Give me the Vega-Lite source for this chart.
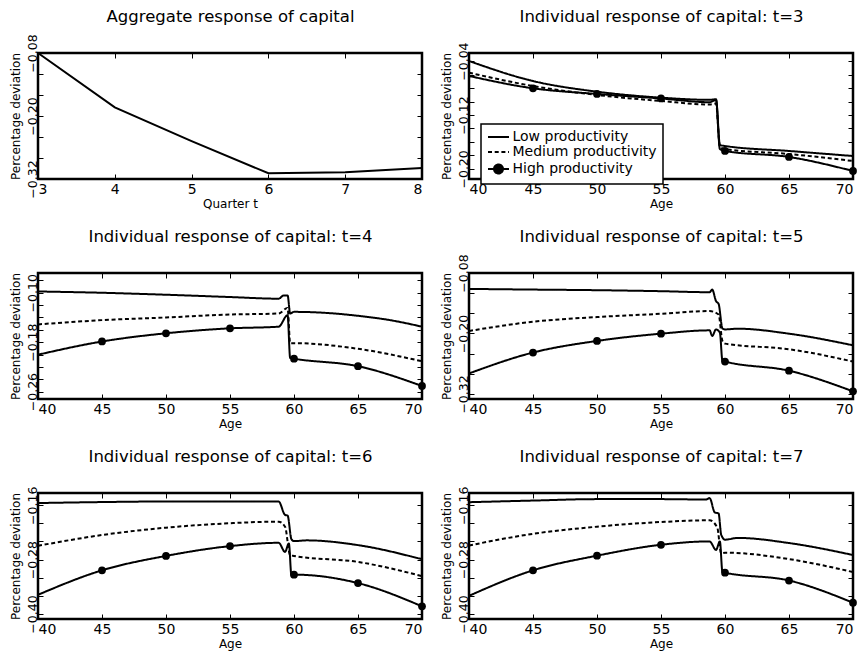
{
"$schema": "https://vega.github.io/schema/vega-lite/v6.json",
"background": "white",
"padding": {"left": 7, "top": 7, "right": 2, "bottom": 0},
"config": {
  "view": {"stroke": "black", "strokeWidth": 2.5},
  "font": "DejaVu Sans",
  "axis": {"domain": false, "grid": false, "tickColor": "black", "tickWidth": 1, "tickSize": -5, "labelColor": "black", "labelFont": "DejaVu Sans", "titleFont": "DejaVu Sans", "titleFontWeight": "normal", "titleColor": "black", "labelOverlap": false, "labelBound": false},
  "axisX": {"labelFontSize": 14, "labelPadding": 8, "titleFontSize": 12, "titlePadding": 2},
  "axisTop": {"titleFontSize": 16.5, "titlePadding": 28},
  "axisY": {"labelFontSize": 12.5, "labelAngle": -90, "labelPadding": 4, "titleFontSize": 12, "titlePadding": 4}
},
"datasets": {
  "agg": [
    {"t": 3, "value": -0.08}, {"t": 4, "value": -0.1835}, {"t": 5, "value": -0.248},
    {"t": 6, "value": -0.309}, {"t": 7, "value": -0.307}, {"t": 8, "value": -0.299}
  ],
  "ind": [
    {"t":3,"series":"Low productivity","age":40,"value":-0.0399},{"t":3,"series":"Low productivity","age":45,"value":-0.0696},{"t":3,"series":"Low productivity","age":50,"value":-0.0854},{"t":3,"series":"Low productivity","age":55,"value":-0.0943},{"t":3,"series":"Low productivity","age":58.8,"value":-0.0975},{"t":3,"series":"Low productivity","age":59.3,"value":-0.0965},{"t":3,"series":"Low productivity","age":59.6,"value":-0.1645},{"t":3,"series":"Low productivity","age":60,"value":-0.166},{"t":3,"series":"Low productivity","age":65,"value":-0.1734},{"t":3,"series":"Low productivity","age":70,"value":-0.1809},
    {"t":3,"series":"Medium productivity","age":40,"value":-0.0572},{"t":3,"series":"Medium productivity","age":45,"value":-0.077},{"t":3,"series":"Medium productivity","age":50,"value":-0.0903},{"t":3,"series":"Medium productivity","age":55,"value":-0.0992},{"t":3,"series":"Medium productivity","age":58.8,"value":-0.1045},{"t":3,"series":"Medium productivity","age":59.3,"value":-0.103},{"t":3,"series":"Medium productivity","age":59.6,"value":-0.1675},{"t":3,"series":"Medium productivity","age":60,"value":-0.1705},{"t":3,"series":"Medium productivity","age":65,"value":-0.1779},{"t":3,"series":"Medium productivity","age":70,"value":-0.1883},
    {"t":3,"series":"High productivity","age":40,"value":-0.0621},{"t":3,"series":"High productivity","age":45,"value":-0.0804},{"t":3,"series":"High productivity","age":50,"value":-0.0888},{"t":3,"series":"High productivity","age":55,"value":-0.0955},{"t":3,"series":"High productivity","age":58.8,"value":-0.101},{"t":3,"series":"High productivity","age":59.3,"value":-0.0977},{"t":3,"series":"High productivity","age":59.6,"value":-0.1705},{"t":3,"series":"High productivity","age":60,"value":-0.1734},{"t":3,"series":"High productivity","age":65,"value":-0.1823},{"t":3,"series":"High productivity","age":70,"value":-0.2031},

    {"t":4,"series":"Low productivity","age":40,"value":-0.0979},{"t":4,"series":"Low productivity","age":45,"value":-0.1},{"t":4,"series":"Low productivity","age":50,"value":-0.1032},{"t":4,"series":"Low productivity","age":55,"value":-0.1069},{"t":4,"series":"Low productivity","age":58.8,"value":-0.1096},{"t":4,"series":"Low productivity","age":59.2,"value":-0.1043},{"t":4,"series":"Low productivity","age":59.5,"value":-0.1043},{"t":4,"series":"Low productivity","age":59.7,"value":-0.1336},{"t":4,"series":"Low productivity","age":60,"value":-0.1309},{"t":4,"series":"Low productivity","age":62,"value":-0.132},{"t":4,"series":"Low productivity","age":65,"value":-0.1373},{"t":4,"series":"Low productivity","age":67.5,"value":-0.1443},{"t":4,"series":"Low productivity","age":70,"value":-0.1549},
    {"t":4,"series":"Medium productivity","age":40,"value":-0.1512},{"t":4,"series":"Medium productivity","age":45,"value":-0.1443},{"t":4,"series":"Medium productivity","age":50,"value":-0.14},{"t":4,"series":"Medium productivity","age":55,"value":-0.1352},{"t":4,"series":"Medium productivity","age":58.8,"value":-0.1336},{"t":4,"series":"Medium productivity","age":59.5,"value":-0.1245},{"t":4,"series":"Medium productivity","age":59.7,"value":-0.1816},{"t":4,"series":"Medium productivity","age":60,"value":-0.1816},{"t":4,"series":"Medium productivity","age":65,"value":-0.1907},{"t":4,"series":"Medium productivity","age":70,"value":-0.2109},
    {"t":4,"series":"High productivity","age":40,"value":-0.2003},{"t":4,"series":"High productivity","age":45,"value":-0.1789},{"t":4,"series":"High productivity","age":50,"value":-0.1656},{"t":4,"series":"High productivity","age":55,"value":-0.1576},{"t":4,"series":"High productivity","age":58.8,"value":-0.1549},{"t":4,"series":"High productivity","age":59.5,"value":-0.1363},{"t":4,"series":"High productivity","age":59.7,"value":-0.2056},{"t":4,"series":"High productivity","age":60,"value":-0.2067},{"t":4,"series":"High productivity","age":65,"value":-0.2189},{"t":4,"series":"High productivity","age":70,"value":-0.2509},

    {"t":5,"series":"Low productivity","age":40,"value":-0.1116},{"t":5,"series":"Low productivity","age":45,"value":-0.1129},{"t":5,"series":"Low productivity","age":50,"value":-0.1141},{"t":5,"series":"Low productivity","age":55,"value":-0.1161},{"t":5,"series":"Low productivity","age":58.8,"value":-0.1181},{"t":5,"series":"Low productivity","age":59,"value":-0.1129},{"t":5,"series":"Low productivity","age":59.3,"value":-0.1358},{"t":5,"series":"Low productivity","age":59.5,"value":-0.1412},{"t":5,"series":"Low productivity","age":59.8,"value":-0.19},{"t":5,"series":"Low productivity","age":60,"value":-0.1919},{"t":5,"series":"Low productivity","age":61,"value":-0.1905},{"t":5,"series":"Low productivity","age":65,"value":-0.2004},{"t":5,"series":"Low productivity","age":70,"value":-0.2234},
    {"t":5,"series":"Medium productivity","age":40,"value":-0.195},{"t":5,"series":"Medium productivity","age":45,"value":-0.1767},{"t":5,"series":"Medium productivity","age":50,"value":-0.1674},{"t":5,"series":"Medium productivity","age":55,"value":-0.1609},{"t":5,"series":"Medium productivity","age":58.8,"value":-0.1556},{"t":5,"series":"Medium productivity","age":59.5,"value":-0.1623},{"t":5,"series":"Medium productivity","age":59.8,"value":-0.215},{"t":5,"series":"Medium productivity","age":60,"value":-0.2201},{"t":5,"series":"Medium productivity","age":65,"value":-0.2313},{"t":5,"series":"Medium productivity","age":70,"value":-0.2556},
    {"t":5,"series":"High productivity","age":40,"value":-0.2793},{"t":5,"series":"High productivity","age":45,"value":-0.2378},{"t":5,"series":"High productivity","age":50,"value":-0.2148},{"t":5,"series":"High productivity","age":55,"value":-0.2004},{"t":5,"series":"High productivity","age":58.8,"value":-0.1938},{"t":5,"series":"High productivity","age":59,"value":-0.2049},{"t":5,"series":"High productivity","age":59.3,"value":-0.1919},{"t":5,"series":"High productivity","age":59.6,"value":-0.1984},{"t":5,"series":"High productivity","age":59.8,"value":-0.2542},{"t":5,"series":"High productivity","age":60,"value":-0.2556},{"t":5,"series":"High productivity","age":65,"value":-0.2739},{"t":5,"series":"High productivity","age":70,"value":-0.3148},

    {"t":6,"series":"Low productivity","age":40,"value":-0.1552},{"t":6,"series":"Low productivity","age":45,"value":-0.153},{"t":6,"series":"Low productivity","age":50,"value":-0.1517},{"t":6,"series":"Low productivity","age":55,"value":-0.1517},{"t":6,"series":"Low productivity","age":58.8,"value":-0.1517},{"t":6,"series":"Low productivity","age":59.3,"value":-0.1813},{"t":6,"series":"Low productivity","age":59.5,"value":-0.1828},{"t":6,"series":"Low productivity","age":59.8,"value":-0.235},{"t":6,"series":"Low productivity","age":60,"value":-0.2391},{"t":6,"series":"Low productivity","age":61,"value":-0.2375},{"t":6,"series":"Low productivity","age":65,"value":-0.248},{"t":6,"series":"Low productivity","age":70,"value":-0.2791},
    {"t":6,"series":"Medium productivity","age":40,"value":-0.2495},{"t":6,"series":"Medium productivity","age":45,"value":-0.2257},{"t":6,"series":"Medium productivity","age":50,"value":-0.2095},{"t":6,"series":"Medium productivity","age":55,"value":-0.1997},{"t":6,"series":"Medium productivity","age":58.8,"value":-0.1962},{"t":6,"series":"Medium productivity","age":59.3,"value":-0.2073},{"t":6,"series":"Medium productivity","age":59.7,"value":-0.2702},{"t":6,"series":"Medium productivity","age":60,"value":-0.2718},{"t":6,"series":"Medium productivity","age":65,"value":-0.2851},{"t":6,"series":"Medium productivity","age":70,"value":-0.3163},
    {"t":6,"series":"High productivity","age":40,"value":-0.3576},{"t":6,"series":"High productivity","age":45,"value":-0.3036},{"t":6,"series":"High productivity","age":50,"value":-0.2718},{"t":6,"series":"High productivity","age":55,"value":-0.2502},{"t":6,"series":"High productivity","age":58.8,"value":-0.2429},{"t":6,"series":"High productivity","age":59.3,"value":-0.2629},{"t":6,"series":"High productivity","age":59.6,"value":-0.2442},{"t":6,"series":"High productivity","age":59.8,"value":-0.3147},{"t":6,"series":"High productivity","age":60,"value":-0.3131},{"t":6,"series":"High productivity","age":65,"value":-0.3318},{"t":6,"series":"High productivity","age":70,"value":-0.383},

    {"t":7,"series":"Low productivity","age":40,"value":-0.1533},{"t":7,"series":"Low productivity","age":45,"value":-0.1497},{"t":7,"series":"Low productivity","age":50,"value":-0.1465},{"t":7,"series":"Low productivity","age":55,"value":-0.1465},{"t":7,"series":"Low productivity","age":58.5,"value":-0.1474},{"t":7,"series":"Low productivity","age":58.8,"value":-0.1443},{"t":7,"series":"Low productivity","age":59.2,"value":-0.1758},{"t":7,"series":"Low productivity","age":59.5,"value":-0.1781},{"t":7,"series":"Low productivity","age":59.7,"value":-0.2247},{"t":7,"series":"Low productivity","age":60,"value":-0.236},{"t":7,"series":"Low productivity","age":61,"value":-0.2321},{"t":7,"series":"Low productivity","age":65,"value":-0.2434},{"t":7,"series":"Low productivity","age":70,"value":-0.2698},
    {"t":7,"series":"Medium productivity","age":40,"value":-0.2488},{"t":7,"series":"Medium productivity","age":45,"value":-0.2231},{"t":7,"series":"Medium productivity","age":50,"value":-0.2073},{"t":7,"series":"Medium productivity","age":55,"value":-0.197},{"t":7,"series":"Medium productivity","age":58.8,"value":-0.1932},{"t":7,"series":"Medium productivity","age":59.4,"value":-0.2096},{"t":7,"series":"Medium productivity","age":59.7,"value":-0.2659},{"t":7,"series":"Medium productivity","age":60,"value":-0.2646},{"t":7,"series":"Medium productivity","age":65,"value":-0.2788},{"t":7,"series":"Medium productivity","age":70,"value":-0.3074},
    {"t":7,"series":"High productivity","age":40,"value":-0.3599},{"t":7,"series":"High productivity","age":45,"value":-0.3036},{"t":7,"series":"High productivity","age":50,"value":-0.2713},{"t":7,"series":"High productivity","age":55,"value":-0.2472},{"t":7,"series":"High productivity","age":58.8,"value":-0.2398},{"t":7,"series":"High productivity","age":59.3,"value":-0.2585},{"t":7,"series":"High productivity","age":59.6,"value":-0.2398},{"t":7,"series":"High productivity","age":59.8,"value":-0.3074},{"t":7,"series":"High productivity","age":60,"value":-0.3087},{"t":7,"series":"High productivity","age":65,"value":-0.3261},{"t":7,"series":"High productivity","age":70,"value":-0.375}
  ]
},
"columns": 2,
"spacing": {"row": 94, "column": 47},
"bounds": "flush",
"resolve": {"scale": {"strokeDash": "independent"}, "legend": {"strokeDash": "independent"}},
"concat": [
  {
    "width": 384, "height": 126,
    "data": {"name": "agg"},
    "layer": [
      {"mark": {"type": "line", "color": "black", "strokeWidth": 2},
       "encoding": {
         "x": {"field": "t", "type": "quantitative", "scale": {"domain": [3, 8], "nice": false, "zero": false}, "axis": {"title": "Quarter t", "values": [3,4,5,6,7,8]}},
         "y": {"field": "value", "type": "quantitative", "scale": {"domain": [-0.32, -0.08], "nice": false, "zero": false}, "axis": {"title": "Percentage deviation", "values": [-0.32,-0.28,-0.24,-0.2,-0.16,-0.12,-0.08], "labelExpr": "indexof([0.08,0.2,0.32], round(-datum.value*100)/100) >= 0 ? '−' + format(-datum.value, '.2f') : ''"}}
       }},
      {"mark": {"type": "line", "color": "black", "strokeWidth": 2, "opacity": 0},
       "encoding": {
         "x": {"field": "t", "type": "quantitative", "scale": {"domain": [3, 8], "nice": false, "zero": false}, "axis": {"orient": "top", "title": "Aggregate response of capital", "labels": false, "values": [3,4,5,6,7,8]}},
         "y": {"field": "value", "type": "quantitative", "scale": {"domain": [-0.32, -0.08], "nice": false, "zero": false}, "axis": {"orient": "right", "title": null, "labels": false, "values": [-0.32,-0.28,-0.24,-0.2,-0.16,-0.12,-0.08]}}
       }}
    ],
    "resolve": {"axis": {"x": "independent", "y": "independent"}}
  },
  {
    "width": 384, "height": 126,
    "data": {"name": "ind"},
    "transform": [{"filter": "datum.t == 3"}],
    "layer": [
      {"mark": {"type": "line", "color": "black", "strokeWidth": 2, "interpolate": "monotone"},
       "encoding": {
         "x": {"field": "age", "type": "quantitative", "scale": {"domain": [40, 70], "nice": false, "zero": false}, "axis": {"title": "Age", "values": [40,45,50,55,60,65,70], "labelFlush": true}},
         "y": {"field": "value", "type": "quantitative", "scale": {"domain": [-0.215, -0.028], "nice": false, "zero": false}, "axis": {"title": "Percentage deviation", "values": [-0.2,-0.18,-0.16,-0.14,-0.12,-0.1,-0.08,-0.06,-0.04], "labelExpr": "indexof([0.04,0.12,0.2], round(-datum.value*100)/100) >= 0 ? '−' + format(-datum.value, '.2f') : ''"}},
         "strokeDash": {"field": "series", "type": "nominal", "scale": {"domain": ["Low productivity", "Medium productivity", "High productivity"], "range": [[1, 0], [4, 2.7], [1, 0]]},
           "legend": {"orient": "none", "legendX": 12, "legendY": 71, "title": null, "padding": 6, "strokeColor": "black", "fillColor": "white", "cornerRadius": 0, "symbolType": "M-2.1,0H2.1", "symbolSize": 100, "symbolStrokeWidth": 2, "symbolStrokeColor": "black", "labelFontSize": 14, "labelFont": "DejaVu Sans", "labelColor": "black", "labelOffset": 7, "symbolOffset": 4.5, "rowPadding": 1,
             "encode": {
               "legend": {"update": {"strokeWidth": {"value": 1.5}}},
               "symbols": {"update": {
                 "shape": {"signal": "datum.value === 'High productivity' ? 'M-2.1,0H2.1M0.9,0A0.9,0.9,0,1,1,-0.9,0A0.9,0.9,0,1,1,0.9,0' : 'M-2.1,0H2.1'"},
                 "fill": {"signal": "datum.value === 'High productivity' ? 'black' : 'transparent'"},
                 "stroke": {"value": "black"}}}}}}
       }},
      {"transform": [{"filter": "datum.series == 'High productivity' && datum.age % 5 == 0 && datum.age > 40"}],
       "mark": {"type": "point", "filled": true, "color": "black", "size": 60, "opacity": 1},
       "encoding": {
         "x": {"field": "age", "type": "quantitative", "scale": {"domain": [40, 70], "nice": false, "zero": false}, "axis": {"orient": "top", "title": "Individual response of capital: t=3", "labels": false, "values": [40,45,50,55,60,65,70]}},
         "y": {"field": "value", "type": "quantitative", "scale": {"domain": [-0.215, -0.028], "nice": false, "zero": false}, "axis": {"orient": "right", "title": null, "labels": false, "values": [-0.2,-0.18,-0.16,-0.14,-0.12,-0.1,-0.08,-0.06,-0.04]}}
       }}
    ],
    "resolve": {"axis": {"x": "independent", "y": "independent"}}
  },
  {
    "width": 384, "height": 126,
    "data": {"name": "ind"},
    "transform": [{"filter": "datum.t == 4"}],
    "layer": [
      {"mark": {"type": "line", "color": "black", "strokeWidth": 2, "interpolate": "monotone"},
       "encoding": {
         "x": {"field": "age", "type": "quantitative", "scale": {"domain": [40, 70], "nice": false, "zero": false}, "axis": {"title": "Age", "values": [40,45,50,55,60,65,70], "labelFlush": true}},
         "y": {"field": "value", "type": "quantitative", "scale": {"domain": [-0.272, -0.068], "nice": false, "zero": false}, "axis": {"title": "Percentage deviation", "values": [-0.26,-0.24,-0.22,-0.2,-0.18,-0.16,-0.14,-0.12,-0.1,-0.08], "labelExpr": "indexof([0.1,0.18,0.26], round(-datum.value*100)/100) >= 0 ? '−' + format(-datum.value, '.2f') : ''"}},
         "strokeDash": {"field": "series", "type": "nominal", "scale": {"domain": ["Low productivity", "Medium productivity", "High productivity"], "range": [[1, 0], [4, 2.7], [1, 0]]}, "legend": null}
       }},
      {"transform": [{"filter": "datum.series == 'High productivity' && datum.age % 5 == 0 && datum.age > 40"}],
       "mark": {"type": "point", "filled": true, "color": "black", "size": 60, "opacity": 1},
       "encoding": {
         "x": {"field": "age", "type": "quantitative", "scale": {"domain": [40, 70], "nice": false, "zero": false}, "axis": {"orient": "top", "title": "Individual response of capital: t=4", "labels": false, "values": [40,45,50,55,60,65,70]}},
         "y": {"field": "value", "type": "quantitative", "scale": {"domain": [-0.272, -0.068], "nice": false, "zero": false}, "axis": {"orient": "right", "title": null, "labels": false, "values": [-0.26,-0.24,-0.22,-0.2,-0.18,-0.16,-0.14,-0.12,-0.1,-0.08]}}
       }}
    ],
    "resolve": {"axis": {"x": "independent", "y": "independent"}}
  },
  {
    "width": 384, "height": 126,
    "data": {"name": "ind"},
    "transform": [{"filter": "datum.t == 5"}],
    "layer": [
      {"mark": {"type": "line", "color": "black", "strokeWidth": 2, "interpolate": "monotone"},
       "encoding": {
         "x": {"field": "age", "type": "quantitative", "scale": {"domain": [40, 70], "nice": false, "zero": false}, "axis": {"title": "Age", "values": [40,45,50,55,60,65,70], "labelFlush": true}},
         "y": {"field": "value", "type": "quantitative", "scale": {"domain": [-0.33, -0.08], "nice": false, "zero": false}, "axis": {"title": "Percentage deviation", "values": [-0.32,-0.28,-0.24,-0.2,-0.16,-0.12,-0.08], "labelExpr": "indexof([0.08,0.2,0.32], round(-datum.value*100)/100) >= 0 ? '−' + format(-datum.value, '.2f') : ''"}},
         "strokeDash": {"field": "series", "type": "nominal", "scale": {"domain": ["Low productivity", "Medium productivity", "High productivity"], "range": [[1, 0], [4, 2.7], [1, 0]]}, "legend": null}
       }},
      {"transform": [{"filter": "datum.series == 'High productivity' && datum.age % 5 == 0 && datum.age > 40"}],
       "mark": {"type": "point", "filled": true, "color": "black", "size": 60, "opacity": 1},
       "encoding": {
         "x": {"field": "age", "type": "quantitative", "scale": {"domain": [40, 70], "nice": false, "zero": false}, "axis": {"orient": "top", "title": "Individual response of capital: t=5", "labels": false, "values": [40,45,50,55,60,65,70]}},
         "y": {"field": "value", "type": "quantitative", "scale": {"domain": [-0.33, -0.08], "nice": false, "zero": false}, "axis": {"orient": "right", "title": null, "labels": false, "values": [-0.32,-0.28,-0.24,-0.2,-0.16,-0.12,-0.08]}}
       }}
    ],
    "resolve": {"axis": {"x": "independent", "y": "independent"}}
  },
  {
    "width": 384, "height": 126,
    "data": {"name": "ind"},
    "transform": [{"filter": "datum.t == 6"}],
    "layer": [
      {"mark": {"type": "line", "color": "black", "strokeWidth": 2, "interpolate": "monotone"},
       "encoding": {
         "x": {"field": "age", "type": "quantitative", "scale": {"domain": [40, 70], "nice": false, "zero": false}, "axis": {"title": "Age", "values": [40,45,50,55,60,65,70], "labelFlush": true}},
         "y": {"field": "value", "type": "quantitative", "scale": {"domain": [-0.411, -0.133], "nice": false, "zero": false}, "axis": {"title": "Percentage deviation", "values": [-0.4,-0.36,-0.32,-0.28,-0.24,-0.2,-0.16], "labelExpr": "indexof([0.16,0.28,0.4], round(-datum.value*100)/100) >= 0 ? '−' + format(-datum.value, '.2f') : ''"}},
         "strokeDash": {"field": "series", "type": "nominal", "scale": {"domain": ["Low productivity", "Medium productivity", "High productivity"], "range": [[1, 0], [4, 2.7], [1, 0]]}, "legend": null}
       }},
      {"transform": [{"filter": "datum.series == 'High productivity' && datum.age % 5 == 0 && datum.age > 40"}],
       "mark": {"type": "point", "filled": true, "color": "black", "size": 60, "opacity": 1},
       "encoding": {
         "x": {"field": "age", "type": "quantitative", "scale": {"domain": [40, 70], "nice": false, "zero": false}, "axis": {"orient": "top", "title": "Individual response of capital: t=6", "labels": false, "values": [40,45,50,55,60,65,70]}},
         "y": {"field": "value", "type": "quantitative", "scale": {"domain": [-0.411, -0.133], "nice": false, "zero": false}, "axis": {"orient": "right", "title": null, "labels": false, "values": [-0.4,-0.36,-0.32,-0.28,-0.24,-0.2,-0.16]}}
       }}
    ],
    "resolve": {"axis": {"x": "independent", "y": "independent"}}
  },
  {
    "width": 384, "height": 126,
    "data": {"name": "ind"},
    "transform": [{"filter": "datum.t == 7"}],
    "layer": [
      {"mark": {"type": "line", "color": "black", "strokeWidth": 2, "interpolate": "monotone"},
       "encoding": {
         "x": {"field": "age", "type": "quantitative", "scale": {"domain": [40, 70], "nice": false, "zero": false}, "axis": {"title": "Age", "values": [40,45,50,55,60,65,70], "labelFlush": true}},
         "y": {"field": "value", "type": "quantitative", "scale": {"domain": [-0.411, -0.133], "nice": false, "zero": false}, "axis": {"title": "Percentage deviation", "values": [-0.4,-0.36,-0.32,-0.28,-0.24,-0.2,-0.16], "labelExpr": "indexof([0.16,0.28,0.4], round(-datum.value*100)/100) >= 0 ? '−' + format(-datum.value, '.2f') : ''"}},
         "strokeDash": {"field": "series", "type": "nominal", "scale": {"domain": ["Low productivity", "Medium productivity", "High productivity"], "range": [[1, 0], [4, 2.7], [1, 0]]}, "legend": null}
       }},
      {"transform": [{"filter": "datum.series == 'High productivity' && datum.age % 5 == 0 && datum.age > 40"}],
       "mark": {"type": "point", "filled": true, "color": "black", "size": 60, "opacity": 1},
       "encoding": {
         "x": {"field": "age", "type": "quantitative", "scale": {"domain": [40, 70], "nice": false, "zero": false}, "axis": {"orient": "top", "title": "Individual response of capital: t=7", "labels": false, "values": [40,45,50,55,60,65,70]}},
         "y": {"field": "value", "type": "quantitative", "scale": {"domain": [-0.411, -0.133], "nice": false, "zero": false}, "axis": {"orient": "right", "title": null, "labels": false, "values": [-0.4,-0.36,-0.32,-0.28,-0.24,-0.2,-0.16]}}
       }}
    ],
    "resolve": {"axis": {"x": "independent", "y": "independent"}}
  }
]
}
